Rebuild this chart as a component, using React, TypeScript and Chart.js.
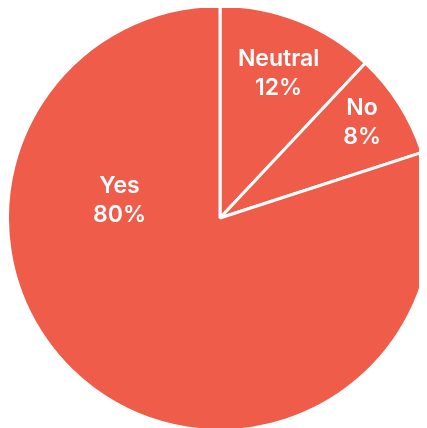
import React, { useEffect, useRef } from "react";
import { Chart, registerables } from "chart.js";

Chart.register(...registerables);

const categories = ["Neutral", "No", "Yes"];
const values = [12, 8, 80];
const sliceColor = "#EF5C49";
// label placement inside each slice: fraction along slice angle, fraction of radius
const labelAngleFrac = [0.51, 0.45, 0.722];
const labelRadiusFrac = [0.735, 0.805, 0.48];

const labelPlugin = {
  id: "sliceLabels",
  afterDatasetsDraw(chart: any) {
    const ctx = chart.ctx;
    const meta = chart.getDatasetMeta(0);
    const data = chart.data.datasets[0].data as number[];
    const total = data.reduce((a, b) => a + b, 0);
    ctx.save();
    ctx.fillStyle = "#ffffff";
    ctx.font = "600 23px Inter";
    ctx.textAlign = "center";
    ctx.textBaseline = "middle";
    meta.data.forEach((arc: any, i: number) => {
      const p = arc.getProps(["x", "y", "startAngle", "endAngle", "outerRadius"], true);
      const a = p.startAngle + (p.endAngle - p.startAngle) * labelAngleFrac[i];
      const r = p.outerRadius * labelRadiusFrac[i];
      const cx = p.x + Math.cos(a) * r;
      const cy = p.y + Math.sin(a) * r;
      const pct = Math.round((data[i] / total) * 100) + "%";
      ctx.fillText(chart.data.labels[i], cx, cy - 14.5);
      ctx.fillText(pct, cx, cy + 14.5);
    });
    ctx.restore();
  },
};

export default function App() {
  const ref = useRef<HTMLCanvasElement | null>(null);
  useEffect(() => {
    document.documentElement.style.overflow = "hidden";
    document.body.style.overflow = "hidden";
    if (!ref.current) return;
    const chart = new Chart(ref.current, {
      type: "pie",
      data: {
        labels: categories,
        datasets: [
          {
            data: values,
            backgroundColor: values.map(() => sliceColor),
            borderColor: "#ffffff",
            borderWidth: 3,
          },
        ],
      },
      options: {
        responsive: false,
        animation: false,
        layout: { padding: 0 },
        plugins: {
          legend: { display: false },
          tooltip: { enabled: false },
        },
      },
      plugins: [labelPlugin],
    });
    return () => chart.destroy();
  }, []);
  return (
    <canvas
      ref={ref}
      width={428}
      height={428}
      style={{ display: "block", width: 428, height: 428, marginTop: -4, marginLeft: -2 }}
    />
  );
}
